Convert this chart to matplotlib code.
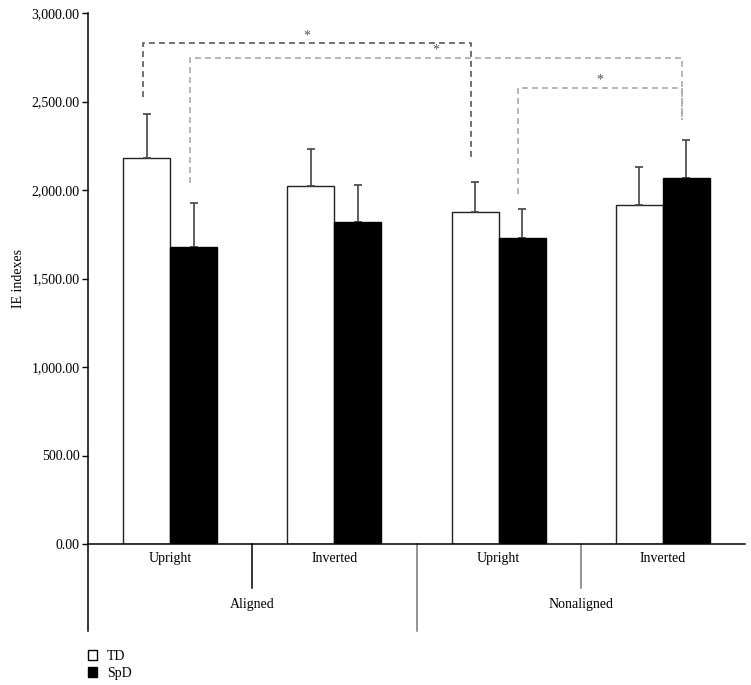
import matplotlib
matplotlib.use("Agg")
import matplotlib.pyplot as plt
from matplotlib.patches import Patch
import numpy as np

# ---- data ----
conditions = ["Upright", "Inverted", "Upright", "Inverted"]
groups = ["Aligned", "Nonaligned"]
series = ["TD", "SpD"]
td_means = [2181, 2023, 1876, 1915]
spd_means = [1680, 1819, 1729, 2068]
td_err = [248, 209, 169, 215]
spd_err = [247, 209, 164, 214]
ytick_values = [0, 500, 1000, 1500, 2000, 2500, 3000]
# significance brackets: (cond1, series1, cond2, series2, top, left bottom, right bottom, colour)
brackets = [
    (0, 0, 2, 0, 2829, 2527, 2188, "#555555"),
    (0, 1, 3, 1, 2747, 2040, 2395, "#aaaaaa"),
    (2, 1, 3, 1, 2578, 1977, 2395, "#aaaaaa"),
]
star_y = [2872, 2791, 2621]

plt.rcParams['font.family'] = ['Liberation Serif', 'DejaVu Serif']

fig = plt.figure(figsize=(7.51, 6.85), dpi=100)
ax = fig.add_axes([88/751, 1-544/685, (745-88)/751, (544-13)/685])

x = np.arange(len(conditions))
w = 0.286
off = 0.143
ax.bar(x - off, td_means, w, color="white", edgecolor="#222222", linewidth=1.0, zorder=2)
ax.bar(x + off, spd_means, w, color="black", edgecolor="black", linewidth=1.0, zorder=2)
ax.errorbar(x - off, td_means, yerr=[np.zeros(4), td_err], fmt="none",
            ecolor="#444444", elinewidth=1.2, capsize=3, capthick=1.2, zorder=3)
ax.errorbar(x + off, spd_means, yerr=[np.zeros(4), spd_err], fmt="none",
            ecolor="#444444", elinewidth=1.2, capsize=3, capthick=1.2, zorder=1)

ax.set_xlim(-0.5, 3.5)
ax.set_ylim(0, 3000)
ax.set_yticks(ytick_values)
ax.set_yticklabels([f"{v:,.2f}" for v in ytick_values], fontsize=10)
ax.set_xticks([])
ax.tick_params(axis="y", direction="out", length=4, width=1, pad=2)
for s in ["top", "right"]:
    ax.spines[s].set_visible(False)
ax.spines["left"].set_linewidth(1.1)
ax.spines["bottom"].set_linewidth(1.1)
ax.set_ylabel("IE indexes", fontsize=10, labelpad=5)

# brackets
offs = [-off - 0.025, off - 0.025]
dash = (0, (3.5, 2.5))
for i, (c1, s1, c2, s2, top, lb, rb, col) in enumerate(brackets):
    x1 = c1 + offs[s1]
    x2 = c2 + offs[s2]
    ax.plot([x1, x1, x2, x2], [lb, top, top, rb], color=col, lw=1.2,
            linestyle=dash, clip_on=False, zorder=4)
    ax.text((x1 + x2) / 2, star_y[i], "*", ha="center", va="center",
            fontsize=10, color="#555555")

# category axis below
tr = ax.get_xaxis_transform()
for i, c in enumerate(conditions):
    ax.text(i, -0.028, c, transform=tr, ha="center", va="center", fontsize=10)
for j, g in enumerate(groups):
    ax.text(0.5 + 2*j, -0.113, g, transform=tr, ha="center", va="center", fontsize=10)
ax.plot([-0.5, -0.5], [0, -0.164], transform=tr, color="black", lw=1.1, clip_on=False)
ax.plot([1.5, 1.5], [0, -0.164], transform=tr, color="#777777", lw=1.1, clip_on=False)
ax.plot([0.5, 0.5], [0, -0.083], transform=tr, color="black", lw=1.1, clip_on=False)
ax.plot([2.5, 2.5], [0, -0.083], transform=tr, color="#777777", lw=1.1, clip_on=False)

handles = [Patch(facecolor="white", edgecolor="black", linewidth=1.0, label="TD"),
           Patch(facecolor="black", edgecolor="black", linewidth=1.0, label="SpD")]
fig.legend(handles=handles, loc="upper left", bbox_to_anchor=(82/751, 1-644/685),
           frameon=False, fontsize=10, handlelength=0.7, handleheight=0.7,
           handletextpad=0.7, labelspacing=0.3, borderaxespad=0)

fig.savefig("out.png", dpi=100)
